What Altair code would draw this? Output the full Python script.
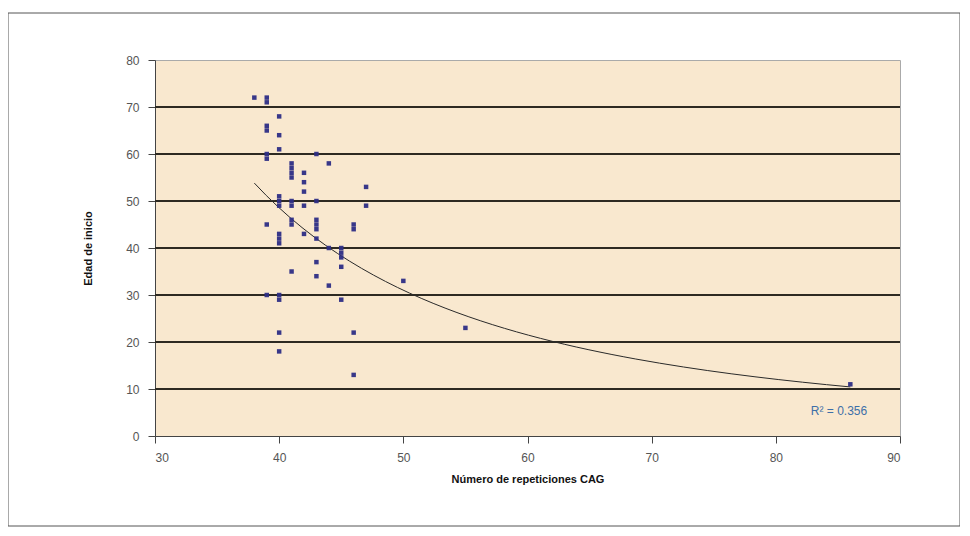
import altair as alt
import pandas as pd

# CAG repeats (x) and age of onset (y)
cag = [38,
       39, 39, 39, 39, 39, 39, 39, 39,
       40, 40, 40, 40, 40, 40, 40, 40, 40, 40, 40, 40, 40,
       41, 41, 41, 41, 41, 41, 41, 41, 41,
       42, 42, 42, 42, 42,
       43, 43, 43, 43, 43, 43, 43, 43,
       44, 44, 44,
       45, 45, 45, 45, 45,
       46, 46, 46, 46,
       47, 47,
       50, 55, 86]
edad = [72,
        72, 71, 66, 65, 60, 59, 45, 30,
        68, 64, 61, 51, 50, 49, 43, 42, 41, 30, 29, 22, 18,
        58, 57, 56, 55, 50, 49, 46, 45, 35,
        56, 54, 52, 49, 43,
        60, 50, 46, 45, 44, 42, 37, 34,
        58, 40, 32,
        40, 39, 38, 36, 29,
        45, 44, 22, 13,
        53, 49,
        33, 23, 11]
grid_values = [10, 20, 30, 40, 50, 60, 70]
x_ticks = [30, 40, 50, 60, 70, 80, 90]
y_ticks = [0, 10, 20, 30, 40, 50, 60, 70, 80]
r2_label = "R² = 0.356"

df = pd.DataFrame({"cag": cag, "edad": edad})
grid_df = pd.DataFrame({"g": grid_values})

FONT = "Liberation Sans"

xscale = alt.Scale(domain=[30, 90], nice=False, zero=False)
yscale = alt.Scale(domain=[0, 80], nice=False)

xaxis = alt.Axis(values=x_ticks, grid=False, title="Número de repeticiones CAG",
                 tickSize=7, labelPadding=9, titlePadding=10,
                 domainColor="#444", tickColor="#444", labelColor="#555",
                 labelFontSize=12, titleFontSize=11, titleFontWeight="bold",
                 labelFont=FONT, titleFont=FONT, titleColor="#111")
yaxis = alt.Axis(values=y_ticks, grid=False, title="Edad de inicio",
                 tickSize=7, labelPadding=9, titlePadding=32,
                 domainColor="#444", tickColor="#444", labelColor="#555",
                 labelFontSize=12, titleFontSize=11, titleFontWeight="bold",
                 labelFont=FONT, titleFont=FONT, titleColor="#111")

border = alt.Chart(pd.DataFrame({"a": [0]})).mark_rect(
    fillOpacity=0, stroke="#555", strokeWidth=1
).encode(x=alt.value(-147), x2=alt.value(805), y=alt.value(-47), y2=alt.value(466))

grid = alt.Chart(grid_df).mark_rule(color="#2e2a22", strokeWidth=1.8).encode(
    y=alt.Y("g:Q", scale=yscale, axis=yaxis)
)

points = alt.Chart(df).mark_point(
    shape="square", filled=True, size=20, color="#2d2d85", opacity=0.95
).encode(
    x=alt.X("cag:Q", scale=xscale, axis=xaxis),
    y=alt.Y("edad:Q", scale=yscale, axis=yaxis),
)

trend = alt.Chart(df).transform_regression(
    "cag", "edad", method="pow", extent=[38, 86]
).mark_line(color="#2a2a2a", strokeWidth=1).encode(
    x=alt.X("cag:Q", scale=xscale, axis=xaxis),
    y=alt.Y("edad:Q", scale=yscale, axis=yaxis),
)

r2 = alt.Chart(pd.DataFrame({"t": [r2_label]})).mark_text(
    font=FONT, fontSize=12, color="#3d6fa8", align="center"
).encode(text="t:N", x=alt.value(684), y=alt.value(351))

chart = alt.layer(border, grid, trend, points, r2).properties(
    width=745, height=376,
    background="white",
    padding={"left": 147, "top": 52, "right": 60, "bottom": 92},
    autosize=alt.AutoSizeParams(type="none"),
).configure_view(
    fill="#f9e8cf", stroke="#aaa", strokeWidth=1
)

chart.save("out.html", embed_options={"renderer": "svg", "actions": False})
